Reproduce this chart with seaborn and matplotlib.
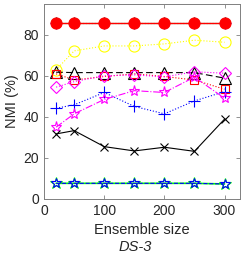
import matplotlib
matplotlib.use("Agg")
import matplotlib.pyplot as plt
import seaborn as sns

# Ensemble sizes and NMI values (%) per method
ens_size = [20, 50, 100, 150, 200, 250, 300]
top_green = [86, 86, 86, 86, 86, 86, 86]
top_blue = [86, 86, 86, 86, 86, 86, 86]
top_red = [86, 86, 86, 86, 86, 86, 86]
yellow_circ = [63, 72.2, 74.6, 74.6, 75.6, 77.4, 76.4]
black_tri = [61.8, 61.6, 61.6, 61.6, 61.6, 61.6, 58.9]
red_sq = [61, 58, 59.7, 61, 59.7, 58, 53.5]
mag_diam = [54.5, 57.2, 60, 60.5, 59.5, 62, 61.3]
blue_plus = [44.2, 45.9, 51.9, 45.1, 41.5, 47.8, 52.3]
mag_star = [35, 41.5, 48.5, 52.8, 51.9, 59.4, 49.1]
black_x = [31.7, 33.3, 25.5, 23.4, 25.2, 23.2, 38.9]
green_star = [7.6, 7.6, 7.6, 7.6, 7.6, 7.6, 7.3]
blue_star = [7.6, 7.6, 7.6, 7.6, 7.6, 7.6, 7.3]

sns.set_style("ticks")
plt.rcParams["font.family"] = ["Liberation Sans", "DejaVu Sans"]
plt.rcParams["xtick.direction"] = "in"
plt.rcParams["ytick.direction"] = "in"

fig = plt.figure(figsize=(2.41, 2.57), dpi=100)
ax = fig.add_axes([0.183, 0.226, 0.811, 0.758])

def draw(y, color, ls, marker, ms=7, mfc="none", lw=0.8):
    sns.lineplot(x=ens_size, y=y, ax=ax, color=color, linestyle=ls, marker=marker,
                 markersize=ms, markerfacecolor=mfc, markeredgecolor=color,
                 markeredgewidth=0.8, linewidth=lw)

draw(top_green, "#00ff00", "-", "*", ms=8)
draw(top_blue, "blue", ":", "+", ms=8)
draw(top_red, "red", "-", "o", ms=8, mfc="red", lw=1.0)
draw(yellow_circ, "#ffff00", ":", "o", ms=8)
draw(black_tri, "black", (0, (6, 3)), "^", ms=8)
draw(red_sq, "red", ":", "s", ms=6)
draw(mag_diam, "magenta", ":", "D", ms=6)
draw(blue_plus, "blue", ":", "+", ms=8)
draw(mag_star, "magenta", "-.", "*", ms=8)
draw(black_x, "black", "-", "x", ms=6)
draw(green_star, "#00ff00", "-", "*", ms=9, lw=1.2)
draw(blue_star, "blue", "--", "*", ms=7)

ax.set_xlim(0, 325)
ax.set_ylim(0, 95)
ax.set_xticks([0, 100, 200, 300])
ax.set_yticks([0, 20, 40, 60, 80])
ax.tick_params(labelsize=10, labelcolor="#262626", color="#808080",
               top=True, right=True, length=3, width=0.6)
for s in ax.spines.values():
    s.set_color("#808080")
    s.set_linewidth(0.7)
ax.set_xlabel("Ensemble size", fontsize=10.5, color="#262626", labelpad=4)
ax.set_ylabel("NMI (%)", fontsize=10.5, color="#262626", labelpad=3)
fig.text(0.56, 0.025, "DS-3", fontsize=10.5, style="italic", ha="center", color="#262626")

fig.savefig("out.png", dpi=100)
